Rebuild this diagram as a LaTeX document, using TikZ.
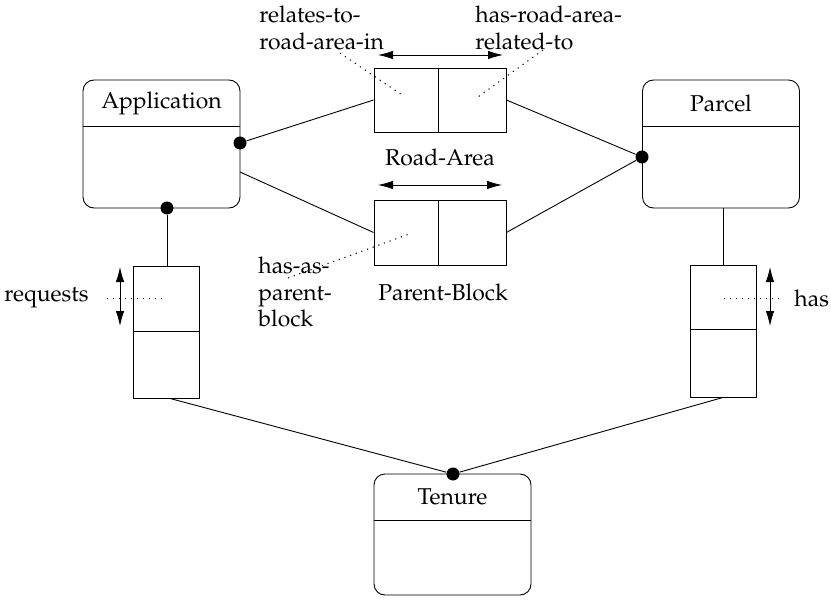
\documentclass[tikz,border=0pt]{standalone}
\usepackage[T1]{fontenc}
\usepackage{mathpazo}
\usetikzlibrary{calc,arrows.meta}
\begin{document}
\begin{tikzpicture}[x=1bp,y=-1bp,line width=0.9bp,
  txt/.style={font=\fontsize{23}{27}\selectfont},
  entity/.style={draw,rounded corners=11bp,minimum width=157bp,minimum height=128bp,inner sep=0pt},
  relbox/.style={draw,minimum width=132bp,minimum height=64bp,inner sep=0pt},
  subbox/.style={draw,minimum width=66bp,minimum height=132bp,inner sep=0pt},
  dot/.style={circle,fill=black,inner sep=0pt,minimum size=13bp},
  hint/.style={line width=1bp,dash pattern=on 1.2bp off 4.8bp},
  dbl/.style={{Latex[length=15bp,width=8.5bp]}-{Latex[length=15bp,width=8.5bp]}},
  lbl/.style={txt,align=left,anchor=west,inner sep=0pt}]
\useasboundingbox (0,0) rectangle (831,605);
% entities
\node[entity] (app) at (161.5,144) {};
\node[txt] (appt) at (161.5,103) {Application};
\draw ($(app.north west)+(0,47)$) -- ($(app.north east)+(0,47)$);
\node[entity] (par) at (721,144) {};
\node[txt] (part) at (721,103) {Parcel};
\draw ($(par.north west)+(0,47)$) -- ($(par.north east)+(0,47)$);
\node[entity,minimum height=121bp] (ten) at (452.5,534.5) {};
\node[txt] (tent) at (452.5,497) {Tenure};
\draw ($(ten.north west)+(0,47)$) -- ($(ten.north east)+(0,47)$);
% relationship boxes
\node[relbox] (ra) at (440,100) {};
\draw ($(ra.north)+(-2,0)$) -- ($(ra.south)+(-2,0)$);
\node[txt] (rat) at (440,157) {Road-Area};
\node[relbox,minimum height=65bp] (pb) at (440,232.5) {};
\draw ($(pb.north)+(-2,0)$) -- ($(pb.south)+(-2,0)$);
\node[txt] (pbt) at (443,292) {Parent-Block};
\node[subbox] (rq) at (166,332) {};
\draw ($(rq.west)+(0,-1)$) -- ($(rq.east)+(0,-1)$);
\node[subbox] (hs) at (723,331) {};
\draw ($(hs.west)+(0,-2)$) -- ($(hs.east)+(0,-2)$);
% dots
\node[dot] (d1) at (240,143) {};
\node[dot] (d2) at (167,208) {};
\node[dot] (d3) at (642,157) {};
\node[dot] (d4) at (453,474) {};
\coordinate (a2) at (240,172);
% connectors
\draw (d1) -- (ra.west);
\draw (a2) -- (pb.west);
\draw (ra.east) -- (d3);
\draw (pb.east) -- (d3);
\draw (d2) -- (d2 |- rq.north);
\draw (hs.north) -- (hs.north |- par.south);
\draw ($(rq.south)+(4,0)$) -- (d4);
\draw (hs.south) -- (d4);
% double arrows
\coordinate (ar1) at (378,55); \coordinate (ar2) at (503,55);
\draw[dbl] (ar1) -- (ar2);
\coordinate (ar3) at (378,185); \coordinate (ar4) at (502,185);
\draw[dbl] (ar3) -- (ar4);
\coordinate (ar5) at (120,267); \coordinate (ar6) at (120,326);
\draw[dbl] (ar5) -- (ar6);
\coordinate (ar7) at (770,267); \coordinate (ar8) at (770,326);
\draw[dbl] (ar7) -- (ar8);
% labels
\node[lbl] (l1) at (259,28) {relates-to-\\road-area-in};
\node[lbl] (l2) at (475,28) {has-road-area-\\related-to};
\node[lbl] (l3) at (258,292) {has-as-\\parent-\\block};
\node[lbl] (l4) at (4,298) {requests};
\node[lbl] (l5) at (794,298) {has};
% dotted hints
\coordinate (h1a) at (340,53); \coordinate (h1b) at (402,95);
\draw[hint] (h1a) -- (h1b);
\coordinate (h2a) at (543,50); \coordinate (h2b) at (478,97);
\draw[hint] (h2a) -- (h2b);
\coordinate (h3a) at (288,278); \coordinate (h3b) at (412,233);
\draw[hint] (h3a) -- (h3b);
\coordinate (h4a) at (107,298); \coordinate (h4b) at (166,298);
\draw[hint] (h4a) -- (h4b);
\coordinate (h5a) at (724,298); \coordinate (h5b) at (784,298);
\draw[hint] (h5a) -- (h5b);
\end{tikzpicture}
\end{document}
